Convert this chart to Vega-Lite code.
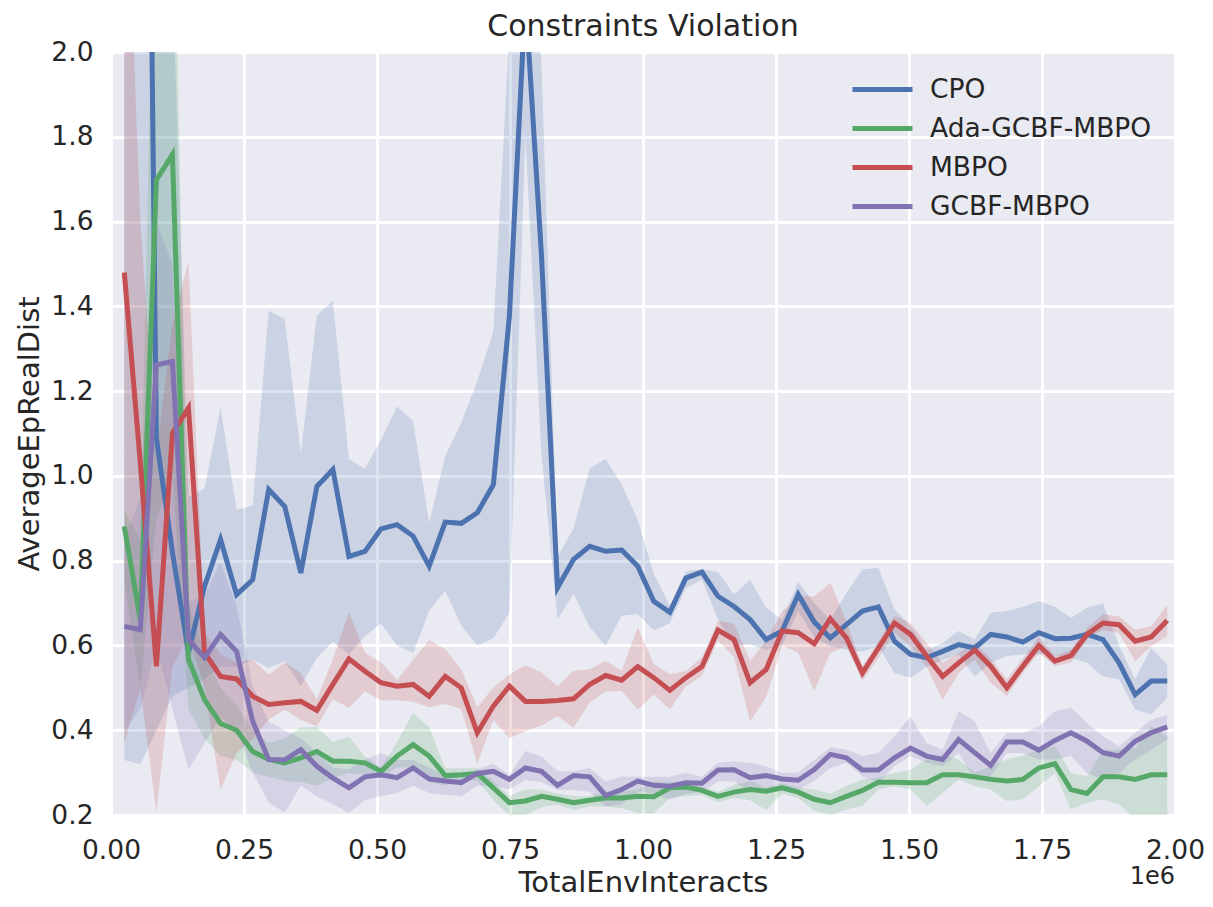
{
"$schema": "https://vega.github.io/schema/vega-lite/v6.json",
"width": 1064, "height": 763,
"autosize": "none",
"padding": {"left": 111, "top": 52, "right": 38, "bottom": 92},
"background": "white",
"title": {"text": "Constraints Violation", "fontSize": 30, "font": "DejaVu Sans", "fontWeight": "normal", "color": "#262626", "offset": -3},
"config": {
  "view": {"fill": "#EAEAF2", "stroke": null},
  "axis": {"domain": false, "ticks": false, "grid": true, "gridColor": "white", "gridWidth": 3, "gridOpacity": 1,
    "labelFont": "DejaVu Sans", "labelFontSize": 26.5, "labelColor": "#262626",
    "titleFont": "DejaVu Sans", "titleFontSize": 29, "titleFontWeight": "normal", "titleColor": "#262626"}
},
"datasets": {"runs": [
{"a":"CPO","x":25000,"m":3.0,"l":0.33,"h":3.5},
{"a":"CPO","x":55160,"m":4.4,"l":0.32,"h":5.0},
{"a":"CPO","x":85320,"m":1.09,"l":0.40,"h":2.6},
{"a":"CPO","x":115480,"m":0.82,"l":0.48,"h":2.2},
{"a":"CPO","x":145640,"m":0.583,"l":0.50,"h":0.95},
{"a":"CPO","x":175800,"m":0.74,"l":0.52,"h":0.97},
{"a":"CPO","x":205960,"m":0.85,"l":0.55,"h":1.16},
{"a":"CPO","x":236120,"m":0.72,"l":0.55,"h":0.92},
{"a":"CPO","x":266280,"m":0.755,"l":0.567,"h":0.93},
{"a":"CPO","x":296440,"m":0.968,"l":0.547,"h":1.39},
{"a":"CPO","x":326600,"m":0.928,"l":0.563,"h":1.37},
{"a":"CPO","x":356760,"m":0.771,"l":0.504,"h":1.053},
{"a":"CPO","x":386920,"m":0.975,"l":0.571,"h":1.379},
{"a":"CPO","x":417080,"m":1.015,"l":0.609,"h":1.413},
{"a":"CPO","x":447240,"m":0.81,"l":0.579,"h":1.039},
{"a":"CPO","x":477400,"m":0.822,"l":0.622,"h":1.017},
{"a":"CPO","x":507560,"m":0.875,"l":0.652,"h":1.086},
{"a":"CPO","x":537720,"m":0.885,"l":0.600,"h":1.164},
{"a":"CPO","x":567880,"m":0.858,"l":0.583,"h":1.129},
{"a":"CPO","x":598040,"m":0.787,"l":0.682,"h":0.888},
{"a":"CPO","x":628200,"m":0.891,"l":0.729,"h":1.047},
{"a":"CPO","x":658360,"m":0.888,"l":0.647,"h":1.125},
{"a":"CPO","x":688520,"m":0.913,"l":0.600,"h":1.224},
{"a":"CPO","x":718680,"m":0.979,"l":0.617,"h":1.340},
{"a":"CPO","x":748840,"m":1.376,"l":0.677,"h":2.05},
{"a":"CPO","x":779000,"m":2.13,"l":1.80,"h":2.5},
{"a":"CPO","x":809160,"m":1.52,"l":1.05,"h":1.97},
{"a":"CPO","x":839320,"m":0.736,"l":0.662,"h":0.809},
{"a":"CPO","x":869480,"m":0.803,"l":0.722,"h":0.876},
{"a":"CPO","x":899640,"m":0.834,"l":0.643,"h":1.018},
{"a":"CPO","x":929800,"m":0.822,"l":0.599,"h":1.040},
{"a":"CPO","x":959960,"m":0.825,"l":0.670,"h":0.979},
{"a":"CPO","x":990120,"m":0.787,"l":0.674,"h":0.896},
{"a":"CPO","x":1020280,"m":0.704,"l":0.635,"h":0.769},
{"a":"CPO","x":1050440,"m":0.678,"l":0.653,"h":0.694},
{"a":"CPO","x":1080600,"m":0.759,"l":0.735,"h":0.775},
{"a":"CPO","x":1110760,"m":0.773,"l":0.755,"h":0.78},
{"a":"CPO","x":1140920,"m":0.716,"l":0.661,"h":0.773},
{"a":"CPO","x":1171080,"m":0.692,"l":0.60,"h":0.72},
{"a":"CPO","x":1201240,"m":0.661,"l":0.602,"h":0.755},
{"a":"CPO","x":1231400,"m":0.614,"l":0.59,"h":0.690},
{"a":"CPO","x":1261560,"m":0.634,"l":0.60,"h":0.66},
{"a":"CPO","x":1291720,"m":0.720,"l":0.68,"h":0.75},
{"a":"CPO","x":1321880,"m":0.655,"l":0.62,"h":0.70},
{"a":"CPO","x":1352040,"m":0.618,"l":0.598,"h":0.66},
{"a":"CPO","x":1382200,"m":0.649,"l":0.590,"h":0.724},
{"a":"CPO","x":1412360,"m":0.681,"l":0.586,"h":0.779},
{"a":"CPO","x":1442520,"m":0.691,"l":0.598,"h":0.783},
{"a":"CPO","x":1472680,"m":0.610,"l":0.535,"h":0.685},
{"a":"CPO","x":1502840,"m":0.579,"l":0.524,"h":0.645},
{"a":"CPO","x":1533000,"m":0.571,"l":0.55,"h":0.59},
{"a":"CPO","x":1563160,"m":0.586,"l":0.565,"h":0.606},
{"a":"CPO","x":1593320,"m":0.602,"l":0.579,"h":0.634},
{"a":"CPO","x":1623480,"m":0.594,"l":0.527,"h":0.614},
{"a":"CPO","x":1653640,"m":0.626,"l":0.559,"h":0.677},
{"a":"CPO","x":1683800,"m":0.620,"l":0.575,"h":0.681},
{"a":"CPO","x":1713960,"m":0.608,"l":0.579,"h":0.691},
{"a":"CPO","x":1744120,"m":0.630,"l":0.579,"h":0.704},
{"a":"CPO","x":1774280,"m":0.616,"l":0.575,"h":0.691},
{"a":"CPO","x":1804440,"m":0.617,"l":0.571,"h":0.665},
{"a":"CPO","x":1834600,"m":0.626,"l":0.559,"h":0.689},
{"a":"CPO","x":1864760,"m":0.614,"l":0.527,"h":0.699},
{"a":"CPO","x":1894920,"m":0.559,"l":0.52,"h":0.60},
{"a":"CPO","x":1925080,"m":0.484,"l":0.449,"h":0.520},
{"a":"CPO","x":1955240,"m":0.516,"l":0.437,"h":0.594},
{"a":"CPO","x":1985400,"m":0.516,"l":0.476,"h":0.555},
{"a":"Ada-GCBF-MBPO","x":25000,"m":0.881,"l":0.75,"h":0.92},
{"a":"Ada-GCBF-MBPO","x":55160,"m":0.66,"l":0.50,"h":0.85},
{"a":"Ada-GCBF-MBPO","x":85320,"m":1.698,"l":0.9,"h":2.6},
{"a":"Ada-GCBF-MBPO","x":115480,"m":1.758,"l":1.0,"h":2.6},
{"a":"Ada-GCBF-MBPO","x":145640,"m":0.567,"l":0.45,"h":0.70},
{"a":"Ada-GCBF-MBPO","x":175800,"m":0.472,"l":0.38,"h":0.58},
{"a":"Ada-GCBF-MBPO","x":205960,"m":0.416,"l":0.34,"h":0.50},
{"a":"Ada-GCBF-MBPO","x":236120,"m":0.400,"l":0.33,"h":0.46},
{"a":"Ada-GCBF-MBPO","x":266280,"m":0.350,"l":0.30,"h":0.40},
{"a":"Ada-GCBF-MBPO","x":296440,"m":0.331,"l":0.29,"h":0.37},
{"a":"Ada-GCBF-MBPO","x":326600,"m":0.323,"l":0.28,"h":0.38},
{"a":"Ada-GCBF-MBPO","x":356760,"m":0.335,"l":0.278,"h":0.407},
{"a":"Ada-GCBF-MBPO","x":386920,"m":0.350,"l":0.269,"h":0.407},
{"a":"Ada-GCBF-MBPO","x":417080,"m":0.327,"l":0.287,"h":0.372},
{"a":"Ada-GCBF-MBPO","x":447240,"m":0.327,"l":0.299,"h":0.385},
{"a":"Ada-GCBF-MBPO","x":477400,"m":0.323,"l":0.295,"h":0.338},
{"a":"Ada-GCBF-MBPO","x":507560,"m":0.303,"l":0.287,"h":0.312},
{"a":"Ada-GCBF-MBPO","x":537720,"m":0.339,"l":0.312,"h":0.372},
{"a":"Ada-GCBF-MBPO","x":567880,"m":0.366,"l":0.312,"h":0.441},
{"a":"Ada-GCBF-MBPO","x":598040,"m":0.339,"l":0.278,"h":0.407},
{"a":"Ada-GCBF-MBPO","x":628200,"m":0.293,"l":0.269,"h":0.31},
{"a":"Ada-GCBF-MBPO","x":658360,"m":0.295,"l":0.282,"h":0.31},
{"a":"Ada-GCBF-MBPO","x":688520,"m":0.298,"l":0.28,"h":0.31},
{"a":"Ada-GCBF-MBPO","x":718680,"m":0.264,"l":0.235,"h":0.28},
{"a":"Ada-GCBF-MBPO","x":748840,"m":0.229,"l":0.20,"h":0.245},
{"a":"Ada-GCBF-MBPO","x":779000,"m":0.233,"l":0.20,"h":0.261},
{"a":"Ada-GCBF-MBPO","x":809160,"m":0.244,"l":0.218,"h":0.26},
{"a":"Ada-GCBF-MBPO","x":839320,"m":0.237,"l":0.224,"h":0.251},
{"a":"Ada-GCBF-MBPO","x":869480,"m":0.229,"l":0.212,"h":0.245},
{"a":"Ada-GCBF-MBPO","x":899640,"m":0.235,"l":0.22,"h":0.245},
{"a":"Ada-GCBF-MBPO","x":929800,"m":0.240,"l":0.220,"h":0.255},
{"a":"Ada-GCBF-MBPO","x":959960,"m":0.240,"l":0.216,"h":0.255},
{"a":"Ada-GCBF-MBPO","x":990120,"m":0.244,"l":0.204,"h":0.26},
{"a":"Ada-GCBF-MBPO","x":1020280,"m":0.243,"l":0.204,"h":0.279},
{"a":"Ada-GCBF-MBPO","x":1050440,"m":0.264,"l":0.240,"h":0.279},
{"a":"Ada-GCBF-MBPO","x":1080600,"m":0.266,"l":0.245,"h":0.275},
{"a":"Ada-GCBF-MBPO","x":1110760,"m":0.258,"l":0.247,"h":0.267},
{"a":"Ada-GCBF-MBPO","x":1140920,"m":0.244,"l":0.23,"h":0.255},
{"a":"Ada-GCBF-MBPO","x":1171080,"m":0.254,"l":0.240,"h":0.271},
{"a":"Ada-GCBF-MBPO","x":1201240,"m":0.260,"l":0.235,"h":0.28},
{"a":"Ada-GCBF-MBPO","x":1231400,"m":0.256,"l":0.212,"h":0.265},
{"a":"Ada-GCBF-MBPO","x":1261560,"m":0.264,"l":0.25,"h":0.275},
{"a":"Ada-GCBF-MBPO","x":1291720,"m":0.254,"l":0.24,"h":0.265},
{"a":"Ada-GCBF-MBPO","x":1321880,"m":0.237,"l":0.21,"h":0.26},
{"a":"Ada-GCBF-MBPO","x":1352040,"m":0.229,"l":0.20,"h":0.25},
{"a":"Ada-GCBF-MBPO","x":1382200,"m":0.244,"l":0.213,"h":0.268},
{"a":"Ada-GCBF-MBPO","x":1412360,"m":0.258,"l":0.221,"h":0.284},
{"a":"Ada-GCBF-MBPO","x":1442520,"m":0.277,"l":0.260,"h":0.288},
{"a":"Ada-GCBF-MBPO","x":1472680,"m":0.277,"l":0.268,"h":0.299},
{"a":"Ada-GCBF-MBPO","x":1502840,"m":0.276,"l":0.260,"h":0.307},
{"a":"Ada-GCBF-MBPO","x":1533000,"m":0.276,"l":0.221,"h":0.331},
{"a":"Ada-GCBF-MBPO","x":1563160,"m":0.295,"l":0.252,"h":0.343},
{"a":"Ada-GCBF-MBPO","x":1593320,"m":0.295,"l":0.284,"h":0.331},
{"a":"Ada-GCBF-MBPO","x":1623480,"m":0.290,"l":0.268,"h":0.30},
{"a":"Ada-GCBF-MBPO","x":1653640,"m":0.284,"l":0.260,"h":0.315},
{"a":"Ada-GCBF-MBPO","x":1683800,"m":0.280,"l":0.233,"h":0.331},
{"a":"Ada-GCBF-MBPO","x":1713960,"m":0.284,"l":0.237,"h":0.339},
{"a":"Ada-GCBF-MBPO","x":1744120,"m":0.311,"l":0.268,"h":0.354},
{"a":"Ada-GCBF-MBPO","x":1774280,"m":0.321,"l":0.299,"h":0.362},
{"a":"Ada-GCBF-MBPO","x":1804440,"m":0.260,"l":0.213,"h":0.299},
{"a":"Ada-GCBF-MBPO","x":1834600,"m":0.251,"l":0.229,"h":0.291},
{"a":"Ada-GCBF-MBPO","x":1864760,"m":0.290,"l":0.237,"h":0.354},
{"a":"Ada-GCBF-MBPO","x":1894920,"m":0.290,"l":0.225,"h":0.354},
{"a":"Ada-GCBF-MBPO","x":1925080,"m":0.284,"l":0.190,"h":0.358},
{"a":"Ada-GCBF-MBPO","x":1955240,"m":0.295,"l":0.180,"h":0.409},
{"a":"Ada-GCBF-MBPO","x":1985400,"m":0.295,"l":0.180,"h":0.386},
{"a":"MBPO","x":25000,"m":1.48,"l":0.37,"h":2.6},
{"a":"MBPO","x":55160,"m":1.03,"l":0.5,"h":1.6},
{"a":"MBPO","x":85320,"m":0.551,"l":0.206,"h":1.05},
{"a":"MBPO","x":115480,"m":1.101,"l":0.55,"h":1.36},
{"a":"MBPO","x":145640,"m":1.16,"l":0.62,"h":1.506},
{"a":"MBPO","x":175800,"m":0.583,"l":0.50,"h":0.63},
{"a":"MBPO","x":205960,"m":0.527,"l":0.259,"h":0.58},
{"a":"MBPO","x":236120,"m":0.521,"l":0.347,"h":0.56},
{"a":"MBPO","x":266280,"m":0.480,"l":0.38,"h":0.567},
{"a":"MBPO","x":296440,"m":0.461,"l":0.425,"h":0.531},
{"a":"MBPO","x":326600,"m":0.465,"l":0.449,"h":0.560},
{"a":"MBPO","x":356760,"m":0.468,"l":0.425,"h":0.535},
{"a":"MBPO","x":386920,"m":0.447,"l":0.409,"h":0.473},
{"a":"MBPO","x":417080,"m":0.508,"l":0.473,"h":0.567},
{"a":"MBPO","x":447240,"m":0.568,"l":0.453,"h":0.679},
{"a":"MBPO","x":477400,"m":0.539,"l":0.492,"h":0.583},
{"a":"MBPO","x":507560,"m":0.512,"l":0.47,"h":0.56},
{"a":"MBPO","x":537720,"m":0.504,"l":0.471,"h":0.519},
{"a":"MBPO","x":567880,"m":0.508,"l":0.467,"h":0.566},
{"a":"MBPO","x":598040,"m":0.480,"l":0.454,"h":0.613},
{"a":"MBPO","x":628200,"m":0.527,"l":0.462,"h":0.591},
{"a":"MBPO","x":658360,"m":0.500,"l":0.450,"h":0.544},
{"a":"MBPO","x":688520,"m":0.394,"l":0.321,"h":0.454},
{"a":"MBPO","x":718680,"m":0.457,"l":0.424,"h":0.501},
{"a":"MBPO","x":748840,"m":0.504,"l":0.381,"h":0.532},
{"a":"MBPO","x":779000,"m":0.468,"l":0.398,"h":0.553},
{"a":"MBPO","x":809160,"m":0.468,"l":0.411,"h":0.536},
{"a":"MBPO","x":839320,"m":0.470,"l":0.433,"h":0.504},
{"a":"MBPO","x":869480,"m":0.474,"l":0.406,"h":0.540},
{"a":"MBPO","x":899640,"m":0.508,"l":0.465,"h":0.544},
{"a":"MBPO","x":929800,"m":0.529,"l":0.492,"h":0.564},
{"a":"MBPO","x":959960,"m":0.518,"l":0.492,"h":0.540},
{"a":"MBPO","x":990120,"m":0.550,"l":0.449,"h":0.643},
{"a":"MBPO","x":1020280,"m":0.524,"l":0.484,"h":0.556},
{"a":"MBPO","x":1050440,"m":0.494,"l":0.449,"h":0.532},
{"a":"MBPO","x":1080600,"m":0.524,"l":0.504,"h":0.54},
{"a":"MBPO","x":1110760,"m":0.550,"l":0.528,"h":0.572},
{"a":"MBPO","x":1140920,"m":0.636,"l":0.611,"h":0.658},
{"a":"MBPO","x":1171080,"m":0.614,"l":0.572,"h":0.651},
{"a":"MBPO","x":1201240,"m":0.512,"l":0.421,"h":0.564},
{"a":"MBPO","x":1231400,"m":0.543,"l":0.477,"h":0.611},
{"a":"MBPO","x":1261560,"m":0.634,"l":0.60,"h":0.68},
{"a":"MBPO","x":1291720,"m":0.630,"l":0.583,"h":0.716},
{"a":"MBPO","x":1321880,"m":0.604,"l":0.492,"h":0.716},
{"a":"MBPO","x":1352040,"m":0.663,"l":0.583,"h":0.748},
{"a":"MBPO","x":1382200,"m":0.618,"l":0.598,"h":0.657},
{"a":"MBPO","x":1412360,"m":0.535,"l":0.516,"h":0.551},
{"a":"MBPO","x":1442520,"m":0.594,"l":0.57,"h":0.61},
{"a":"MBPO","x":1472680,"m":0.653,"l":0.63,"h":0.67},
{"a":"MBPO","x":1502840,"m":0.626,"l":0.598,"h":0.653},
{"a":"MBPO","x":1533000,"m":0.575,"l":0.55,"h":0.606},
{"a":"MBPO","x":1563160,"m":0.527,"l":0.472,"h":0.559},
{"a":"MBPO","x":1593320,"m":0.559,"l":0.535,"h":0.582},
{"a":"MBPO","x":1623480,"m":0.589,"l":0.567,"h":0.606},
{"a":"MBPO","x":1653640,"m":0.551,"l":0.512,"h":0.57},
{"a":"MBPO","x":1683800,"m":0.500,"l":0.480,"h":0.52},
{"a":"MBPO","x":1713960,"m":0.551,"l":0.535,"h":0.57},
{"a":"MBPO","x":1744120,"m":0.600,"l":0.582,"h":0.62},
{"a":"MBPO","x":1774280,"m":0.563,"l":0.551,"h":0.575},
{"a":"MBPO","x":1804440,"m":0.576,"l":0.56,"h":0.59},
{"a":"MBPO","x":1834600,"m":0.626,"l":0.614,"h":0.641},
{"a":"MBPO","x":1864760,"m":0.653,"l":0.637,"h":0.673},
{"a":"MBPO","x":1894920,"m":0.649,"l":0.629,"h":0.669},
{"a":"MBPO","x":1925080,"m":0.610,"l":0.563,"h":0.637},
{"a":"MBPO","x":1955240,"m":0.620,"l":0.598,"h":0.645},
{"a":"MBPO","x":1985400,"m":0.659,"l":0.622,"h":0.696},
{"a":"GCBF-MBPO","x":25000,"m":0.645,"l":0.40,"h":0.85},
{"a":"GCBF-MBPO","x":55160,"m":0.637,"l":0.45,"h":0.95},
{"a":"GCBF-MBPO","x":85320,"m":1.262,"l":0.6,"h":1.6},
{"a":"GCBF-MBPO","x":115480,"m":1.270,"l":0.45,"h":1.5},
{"a":"GCBF-MBPO","x":145640,"m":0.614,"l":0.306,"h":0.70},
{"a":"GCBF-MBPO","x":175800,"m":0.571,"l":0.37,"h":0.72},
{"a":"GCBF-MBPO","x":205960,"m":0.626,"l":0.43,"h":0.796},
{"a":"GCBF-MBPO","x":236120,"m":0.586,"l":0.40,"h":0.692},
{"a":"GCBF-MBPO","x":266280,"m":0.421,"l":0.30,"h":0.504},
{"a":"GCBF-MBPO","x":296440,"m":0.331,"l":0.23,"h":0.42},
{"a":"GCBF-MBPO","x":326600,"m":0.330,"l":0.206,"h":0.40},
{"a":"GCBF-MBPO","x":356760,"m":0.354,"l":0.269,"h":0.381},
{"a":"GCBF-MBPO","x":386920,"m":0.315,"l":0.244,"h":0.347},
{"a":"GCBF-MBPO","x":417080,"m":0.287,"l":0.226,"h":0.312},
{"a":"GCBF-MBPO","x":447240,"m":0.264,"l":0.205,"h":0.308},
{"a":"GCBF-MBPO","x":477400,"m":0.290,"l":0.235,"h":0.33},
{"a":"GCBF-MBPO","x":507560,"m":0.295,"l":0.244,"h":0.347},
{"a":"GCBF-MBPO","x":537720,"m":0.288,"l":0.252,"h":0.33},
{"a":"GCBF-MBPO","x":567880,"m":0.311,"l":0.269,"h":0.33},
{"a":"GCBF-MBPO","x":598040,"m":0.285,"l":0.252,"h":0.312},
{"a":"GCBF-MBPO","x":628200,"m":0.280,"l":0.248,"h":0.295},
{"a":"GCBF-MBPO","x":658360,"m":0.276,"l":0.244,"h":0.291},
{"a":"GCBF-MBPO","x":688520,"m":0.298,"l":0.269,"h":0.308},
{"a":"GCBF-MBPO","x":718680,"m":0.303,"l":0.269,"h":0.321},
{"a":"GCBF-MBPO","x":748840,"m":0.284,"l":0.261,"h":0.295},
{"a":"GCBF-MBPO","x":779000,"m":0.311,"l":0.282,"h":0.351},
{"a":"GCBF-MBPO","x":809160,"m":0.303,"l":0.278,"h":0.338},
{"a":"GCBF-MBPO","x":839320,"m":0.270,"l":0.259,"h":0.303},
{"a":"GCBF-MBPO","x":869480,"m":0.293,"l":0.259,"h":0.303},
{"a":"GCBF-MBPO","x":899640,"m":0.290,"l":0.255,"h":0.311},
{"a":"GCBF-MBPO","x":929800,"m":0.246,"l":0.22,"h":0.279},
{"a":"GCBF-MBPO","x":959960,"m":0.260,"l":0.225,"h":0.291},
{"a":"GCBF-MBPO","x":990120,"m":0.280,"l":0.255,"h":0.29},
{"a":"GCBF-MBPO","x":1020280,"m":0.270,"l":0.25,"h":0.29},
{"a":"GCBF-MBPO","x":1050440,"m":0.268,"l":0.236,"h":0.29},
{"a":"GCBF-MBPO","x":1080600,"m":0.276,"l":0.25,"h":0.299},
{"a":"GCBF-MBPO","x":1110760,"m":0.275,"l":0.255,"h":0.29},
{"a":"GCBF-MBPO","x":1140920,"m":0.306,"l":0.279,"h":0.323},
{"a":"GCBF-MBPO","x":1171080,"m":0.307,"l":0.279,"h":0.327},
{"a":"GCBF-MBPO","x":1201240,"m":0.288,"l":0.255,"h":0.323},
{"a":"GCBF-MBPO","x":1231400,"m":0.293,"l":0.26,"h":0.315},
{"a":"GCBF-MBPO","x":1261560,"m":0.285,"l":0.26,"h":0.299},
{"a":"GCBF-MBPO","x":1291720,"m":0.282,"l":0.26,"h":0.30},
{"a":"GCBF-MBPO","x":1321880,"m":0.307,"l":0.28,"h":0.33},
{"a":"GCBF-MBPO","x":1352040,"m":0.343,"l":0.31,"h":0.36},
{"a":"GCBF-MBPO","x":1382200,"m":0.335,"l":0.323,"h":0.354},
{"a":"GCBF-MBPO","x":1412360,"m":0.306,"l":0.291,"h":0.339},
{"a":"GCBF-MBPO","x":1442520,"m":0.306,"l":0.276,"h":0.346},
{"a":"GCBF-MBPO","x":1472680,"m":0.335,"l":0.315,"h":0.386},
{"a":"GCBF-MBPO","x":1502840,"m":0.358,"l":0.339,"h":0.433},
{"a":"GCBF-MBPO","x":1533000,"m":0.339,"l":0.323,"h":0.370},
{"a":"GCBF-MBPO","x":1563160,"m":0.331,"l":0.315,"h":0.354},
{"a":"GCBF-MBPO","x":1593320,"m":0.378,"l":0.346,"h":0.445},
{"a":"GCBF-MBPO","x":1623480,"m":0.347,"l":0.284,"h":0.421},
{"a":"GCBF-MBPO","x":1653640,"m":0.317,"l":0.29,"h":0.346},
{"a":"GCBF-MBPO","x":1683800,"m":0.372,"l":0.346,"h":0.394},
{"a":"GCBF-MBPO","x":1713960,"m":0.372,"l":0.346,"h":0.394},
{"a":"GCBF-MBPO","x":1744120,"m":0.353,"l":0.331,"h":0.409},
{"a":"GCBF-MBPO","x":1774280,"m":0.376,"l":0.331,"h":0.445},
{"a":"GCBF-MBPO","x":1804440,"m":0.394,"l":0.339,"h":0.453},
{"a":"GCBF-MBPO","x":1834600,"m":0.374,"l":0.299,"h":0.417},
{"a":"GCBF-MBPO","x":1864760,"m":0.347,"l":0.284,"h":0.386},
{"a":"GCBF-MBPO","x":1894920,"m":0.339,"l":0.299,"h":0.362},
{"a":"GCBF-MBPO","x":1925080,"m":0.374,"l":0.331,"h":0.394},
{"a":"GCBF-MBPO","x":1955240,"m":0.394,"l":0.354,"h":0.425},
{"a":"GCBF-MBPO","x":1985400,"m":0.408,"l":0.378,"h":0.437}
]},
"layer": [
  {
    "data": {"name": "runs"},
    "mark": {"type": "area", "opacity": 0.2, "clip": true},
    "encoding": {
      "x": {"field": "x", "type": "quantitative", "scale": {"domain": [0, 2000000]},
        "axis": {"values": [0, 250000, 500000, 750000, 1000000, 1250000, 1500000, 1750000, 2000000],
          "labelExpr": "format(datum.value / 1000000, '.2f')", "labelFlush": false, "labelOverlap": false,
          "labelPadding": 22, "title": "TotalEnvInteracts", "titlePadding": 5}},
      "y": {"field": "l", "type": "quantitative", "scale": {"domain": [0.2, 2.0]},
        "axis": {"values": [0.2, 0.4, 0.6, 0.8, 1.0, 1.2, 1.4, 1.6, 1.8, 2.0], "format": ".1f",
          "labelPadding": 18, "title": "AverageEpRealDist", "titlePadding": 6}},
      "y2": {"field": "h"},
      "color": {"field": "a", "type": "nominal",
        "scale": {"domain": ["CPO", "Ada-GCBF-MBPO", "MBPO", "GCBF-MBPO"], "range": ["#4C72B0", "#55A868", "#C44E52", "#8172B2"]},
        "legend": null}
    }
  },
  {
    "data": {"name": "runs"},
    "mark": {"type": "line", "strokeWidth": 5, "clip": true},
    "encoding": {
      "x": {"field": "x", "type": "quantitative"},
      "y": {"field": "m", "type": "quantitative"},
      "stroke": {"field": "a", "type": "nominal",
        "scale": {"domain": ["CPO", "Ada-GCBF-MBPO", "MBPO", "GCBF-MBPO"], "range": ["#4C72B0", "#55A868", "#C44E52", "#8172B2"]},
        "legend": {"title": null, "orient": "none", "legendX": 739, "legendY": 19, "padding": 0,
          "symbolType": "stroke", "symbolStrokeWidth": 5, "symbolSize": 3600, "clipHeight": 37,
          "labelFont": "DejaVu Sans", "labelFontSize": 26.5, "labelColor": "#262626", "labelOffset": 15,
          "labelLimit": 0, "rowPadding": 2}}
    }
  },
  {
    "data": {"values": [{"t": "1e6"}]},
    "mark": {"type": "text", "align": "right", "baseline": "middle", "dy": 62, "font": "DejaVu Sans", "fontSize": 24, "color": "#262626"},
    "encoding": {
      "x": {"datum": 2000000, "type": "quantitative"},
      "y": {"datum": 0.2, "type": "quantitative"},
      "text": {"field": "t"}
    }
  }
],
"resolve": {"scale": {"color": "independent"}}
}
